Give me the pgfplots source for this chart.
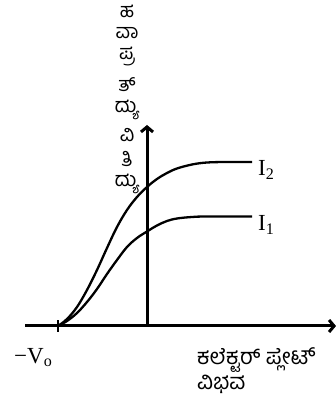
\documentclass[border=0pt]{standalone}
\usepackage{pgfplots}
\pgfplotsset{compat=1.18}
\usetikzlibrary{arrows.meta}
\usepackage{fontspec}
\setmainfont{Liberation Serif}
\newfontfamily\kn[Script=Kannada]{Hind Mysuru}

\begin{document}
\begin{tikzpicture}
\begin{axis}[
    at={(147pt,77pt)}, anchor=origin,
    x=1pt, y=1pt,
    xmin=-122, xmax=189,
    ymin=0, ymax=201,
    enlargelimits=false,
    axis lines=middle,
    axis line style={line width=3pt, -{Straight Barb[length=5pt,width=12pt]}},
    xtick={-89}, xticklabels={},
    ytick=\empty,
    major tick length=12pt,
    tick style={line width=2.4pt, black},
    clip=false,
]
% I2
\addplot[black, line width=2.3pt, smooth, tension=0.6] coordinates {
    (-89,0) (-80,7) (-70,19) (-60,36) (-50,56) (-40,78) (-30,99) (-20,116)
    (-10,129) (0,139) (10,147) (20,153) (30,157.5) (45,161.5) (60,163.5) (80,164) (105,164)
};
% I1
\addplot[black, line width=2.3pt, smooth, tension=0.6] coordinates {
    (-89,0) (-80,5) (-70,13) (-60,24) (-50,37) (-40,52) (-30,66) (-20,79)
    (-10,88) (0,94.5) (10,100.5) (20,105) (30,107.5) (45,109) (60,109.5) (105,109.5)
};

\node[anchor=base west, font=\fontsize{23}{24}\selectfont, inner sep=0pt] at (axis cs:111,150) {I\textsubscript{2}};
\node[anchor=base west, font=\fontsize{23}{24}\selectfont, inner sep=0pt] at (axis cs:111,95) {I\textsubscript{1}};
\node[anchor=base west, font=\fontsize{23}{24}\selectfont, inner sep=0pt] at (axis cs:-133,-37) {−V\textsubscript{o}};

\node[anchor=base west, font=\kn\fontsize{22}{24}\selectfont, inner sep=0pt] at (axis cs:50,-38) {ಕಲೆಕ್ಟರ್ ಪ್ಲೇಟ್};
\node[anchor=base west, font=\kn\fontsize{22}{24}\selectfont, inner sep=0pt] at (axis cs:50,-63) {ವಿಭವ};

% y label, stacked
\node[font=\kn\fontsize{20}{22}\selectfont, inner sep=0pt] at (axis cs:-20,315) {ಹ};
\node[font=\kn\fontsize{20}{22}\selectfont, inner sep=0pt] at (axis cs:-20,293) {ವಾ};
\node[font=\kn\fontsize{20}{22}\selectfont, inner sep=0pt] at (axis cs:-20,269) {ಪ್ರ};
\node[font=\kn\fontsize{20}{22}\selectfont, inner sep=0pt] at (axis cs:-20,241) {ತ್};
\node[font=\kn\fontsize{20}{22}\selectfont, inner sep=0pt] at (axis cs:-20,216) {ದ್ಯು};
\node[font=\kn\fontsize{20}{22}\selectfont, inner sep=0pt] at (axis cs:-20,191) {ವಿ};
\node[font=\kn\fontsize{20}{22}\selectfont, inner sep=0pt] at (axis cs:-20,167) {ತಿ};
\node[font=\kn\fontsize{20}{22}\selectfont, inner sep=0pt] at (axis cs:-20,142) {ದ್ಯು};
\end{axis}
\pgfresetboundingbox
\path (0,0) rectangle (336pt,403pt);
\end{tikzpicture}
\end{document}
